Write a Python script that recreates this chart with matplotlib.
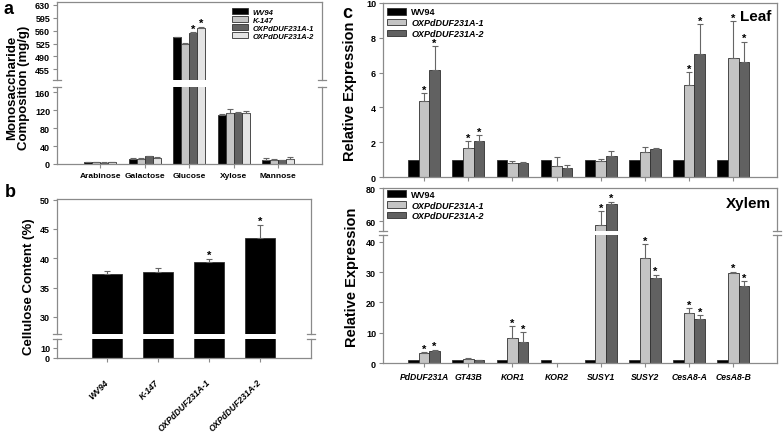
import matplotlib
matplotlib.use('Agg')
import matplotlib.pyplot as plt
from matplotlib.patches import Patch
import numpy as np

plt.rcParams['font.family'] = ['Liberation Sans', 'DejaVu Sans']
plt.rcParams['font.weight'] = 'bold'

# ---- panel a: monosaccharide composition (mg/g)
sugars = ['Arabinose', 'Galactose', 'Glucose', 'Xylose', 'Mannose']
a_lines = ['WV94', 'K-147', 'OXPdDUF231A-1', 'OXPdDUF231A-2']
wv94_sugar = [4, 12, 542, 110, 10]
k147_sugar = [5, 12, 523, 113, 10]
ox1_sugar = [3, 17, 554, 115, 9]
ox2_sugar = [4, 14, 568, 114, 12]
wv94_sugar_err = [0.5, 0.5, 1.5, 1, 4.5]
k147_sugar_err = [0.5, 0.5, 2.5, 9, 1]
ox1_sugar_err = [0.5, 1.5, 2, 2, 1]
ox2_sugar_err = [0.5, 1, 2.5, 5, 3.5]
ox1_sugar_star = [0, 0, 1, 0, 0]
ox2_sugar_star = [0, 0, 1, 0, 0]

# ---- panel b: cellulose content (%)
b_lines = ['WV94', 'K-147', 'OXPdDUF231A-1', 'OXPdDUF231A-2']
cellulose = [37.35, 37.6, 39.4, 43.5]
cellulose_err = [0.55, 0.8, 0.55, 2.2]
cellulose_star = [0, 0, 1, 1]

# ---- panel c: relative expression
genes = ['PdDUF231A', 'GT43B', 'KOR1', 'KOR2', 'SUSY1', 'SUSY2', 'CesA8-A', 'CesA8-B']
c_lines = ['WV94', 'OXPdDUF231A-1', 'OXPdDUF231A-2']
leaf_wv94 = [1, 1, 1, 1, 1, 1, 1, 1]
leaf_ox1 = [4.35, 1.65, 0.82, 0.65, 0.93, 1.42, 5.28, 6.84]
leaf_ox1_err = [0.46, 0.4, 0.12, 0.52, 0.1, 0.33, 0.73, 2.1]
leaf_ox2 = [6.15, 2.07, 0.78, 0.52, 1.2, 1.6, 7.06, 6.6]
leaf_ox2_err = [1.36, 0.34, 0.1, 0.18, 0.27, 0.07, 1.72, 1.17]
leaf_star = [1, 1, 0, 0, 0, 0, 1, 1]
xylem_wv94 = [1, 1, 1, 1, 1, 1, 1, 1]
xylem_ox1 = [3.2, 1.3, 8.2, 0, 57.6, 34.7, 16.6, 29.9]
xylem_ox1_err = [0.3, 0.2, 3.9, 0, 8.5, 4.6, 1.5, 0.3]
xylem_ox2 = [4.0, 0.9, 7.1, 0, 70.8, 28.2, 14.4, 25.3]
xylem_ox2_err = [0.4, 0.2, 3.1, 0, 1.1, 0.9, 1.4, 1.8]
xylem_star = [1, 0, 1, 0, 1, 1, 1, 1]

SPINE = '#8a8a8a'
EDGE = '#303030'
ERR = '#666666'
BLACK, LIGHT, DARK, PALE = '#000000', '#c4c4c4', '#616161', '#e4e4e4'

W, H = 784, 435
fig = plt.figure(figsize=(W / 100, H / 100), dpi=100)


def px(x0, y0, x1, y1):
    return fig.add_axes([x0 / W, 1 - y1 / H, (x1 - x0) / W, (y1 - y0) / H])


def style(ax):
    for s in ax.spines.values():
        s.set_color(SPINE)
        s.set_linewidth(0.9)
    ax.tick_params(direction='out', length=3, width=0.8, color=SPINE, labelsize=6.5, pad=2)


def bars(axs, xs, vals, errs, color, width, stars=None):
    vals = np.asarray(vals, float)
    errs = np.asarray(errs, float)
    m = errs > 0
    for ax in axs:
        ax.bar(xs, vals, width, color=color, edgecolor=EDGE, linewidth=0.6, zorder=2)
        if m.any():
            ax.errorbar(xs[m], vals[m], yerr=[np.zeros(m.sum()), errs[m]], fmt='none',
                        ecolor=ERR, elinewidth=0.8, capsize=2, capthick=0.8, zorder=3)
        if stars is not None:
            for xi, v, e, s in zip(xs, vals, errs, stars):
                if s:
                    ax.annotate('*', (xi, v + e), xytext=(0, -1), textcoords='offset points',
                                ha='center', va='bottom', fontsize=8, annotation_clip=True)


def brk(top, bot):
    for ax, y in ((top, 0), (bot, 1)):
        d = 4 / (ax.get_position().width * W)
        for x in (0, 1):
            ax.plot([x - d, x + d], [y, y], transform=ax.transAxes, color=SPINE,
                    lw=0.9, clip_on=False, zorder=5)
    top.spines['bottom'].set_visible(False)
    bot.spines['top'].set_visible(False)
    top.tick_params(axis='x', bottom=False, labelbottom=False)


def legend(ax, labels, colors, anchor, size, spacing, italic_first=True):
    handles = [Patch(facecolor=c, edgecolor=EDGE, linewidth=0.6) for c in colors]
    lg = ax.legend(handles, labels, loc='upper left', bbox_to_anchor=anchor, frameon=False,
                   prop={'size': size, 'weight': 'bold', 'style': 'italic'},
                   handlelength=2.1, handleheight=0.75, handletextpad=0.6,
                   labelspacing=spacing, borderpad=0, borderaxespad=0)
    if not italic_first:
        lg.get_texts()[0].set_style('normal')
    return lg


# ================= panel a
a_top = px(57, 3, 322, 81)
a_bot = px(57, 88, 322, 165)
xa = np.arange(len(sugars))
wa = 0.18
series_a = [(wv94_sugar, wv94_sugar_err, BLACK, None),
            (k147_sugar, k147_sugar_err, LIGHT, None),
            (ox1_sugar, ox1_sugar_err, DARK, ox1_sugar_star),
            (ox2_sugar, ox2_sugar_err, PALE, ox2_sugar_star)]
for i, (v, e, c, s) in enumerate(series_a):
    bars((a_top, a_bot), xa + (i - 1.5) * wa, v, e, c, wa, s)
for ax in (a_top, a_bot):
    style(ax)
    ax.set_xlim(-0.97, 4.99)
a_top.set_ylim(426, 638)
a_top.set_yticks(np.arange(455, 631, 35))
a_bot.set_ylim(0, 172)
a_bot.set_yticks(np.arange(0, 161, 40))
a_bot.set_xticks(xa, sugars, fontsize=6)
a_bot.tick_params(axis='x', pad=3)
brk(a_top, a_bot)
legend(a_top, a_lines, [BLACK, LIGHT, DARK, PALE], (0.66, 0.92), 5.5, 0.08)
fig.text(9 / W, 1 - 10 / H, 'a', fontsize=13, weight='bold', ha='center', va='center')
fig.text(18 / W, 1 - 88 / H, 'Monosaccharide\nComposition (mg/g)', rotation=90,
         fontsize=9.5, weight='bold', ha='center', va='center', linespacing=1.0)

# ================= panel b
b_top = px(57, 200, 311, 335)
b_bot = px(57, 340, 311, 359)
xb = np.arange(len(b_lines))
for ax in (b_top, b_bot):
    style(ax)
    ax.set_xlim(-0.98, 4.0)
bars((b_top, b_bot), xb, cellulose, cellulose_err, BLACK, 0.6, cellulose_star)
b_top.set_ylim(27.1, 50.1)
b_top.set_yticks([30, 35, 40, 45, 50])
b_bot.set_ylim(0, 19)
b_bot.set_yticks([0, 10])
b_bot.set_xticks(xb, b_lines, fontsize=6.2, style='italic', rotation=45,
                 ha='right', va='center', rotation_mode='anchor')
b_bot.tick_params(axis='x', pad=13)
brk(b_top, b_bot)
fig.text(10 / W, 1 - 193 / H, 'b', fontsize=13, weight='bold', ha='center', va='center')
fig.text(29 / W, 1 - 287 / H, 'Cellulose Content (%)', rotation=90,
         fontsize=9.5, weight='bold', ha='center', va='center')

# ================= panel c (leaf)
xc = np.arange(len(genes))
wc = 0.24
c_leaf = px(383, 4, 777, 178)
style(c_leaf)
bars((c_leaf,), xc - wc, leaf_wv94, np.zeros(len(genes)), BLACK, wc)
bars((c_leaf,), xc, leaf_ox1, leaf_ox1_err, LIGHT, wc, leaf_star)
bars((c_leaf,), xc + wc, leaf_ox2, leaf_ox2_err, DARK, wc, leaf_star)
c_leaf.set_xlim(-0.93, 7.99)
c_leaf.set_ylim(0, 10)
c_leaf.set_yticks(np.arange(0, 11, 2))
c_leaf.set_xticks(xc, [''] * len(genes))
legend(c_leaf, c_lines, [BLACK, LIGHT, DARK], (0.01, 0.975), 6.5, 0.2, italic_first=False)
c_leaf.text(0.985, 0.965, 'Leaf', transform=c_leaf.transAxes, fontsize=11,
            weight='bold', ha='right', va='top')
fig.text(347 / W, 1 - 13 / H, 'c', fontsize=13, weight='bold', ha='center', va='center')
fig.text(350 / W, 1 - 91 / H, 'Relative Expression', rotation=90,
         fontsize=10.5, weight='bold', ha='center', va='center')

# ================= panel c (xylem)
x_top = px(383, 189, 777, 232)
x_bot = px(383, 236, 777, 364)
for ax in (x_top, x_bot):
    style(ax)
    ax.set_xlim(-0.93, 7.99)
bars((x_top, x_bot), xc - wc, xylem_wv94, np.zeros(len(genes)), BLACK, wc)
bars((x_top, x_bot), xc, xylem_ox1, xylem_ox1_err, LIGHT, wc, xylem_star)
bars((x_top, x_bot), xc + wc, xylem_ox2, xylem_ox2_err, DARK, wc, xylem_star)
x_top.set_ylim(54, 80.3)
x_top.set_yticks([60, 80])
x_bot.set_ylim(0, 42.3)
x_bot.set_yticks([0, 10, 20, 30, 40])
x_bot.set_xticks(xc, genes, fontsize=6.2, style='italic')
x_bot.tick_params(axis='x', pad=3.5)
brk(x_top, x_bot)
legend(x_top, c_lines, [BLACK, LIGHT, DARK], (0.01, 0.96), 6.5, 0.2, italic_first=False)
x_top.text(0.985, 0.82, 'Xylem', transform=x_top.transAxes, fontsize=11,
           weight='bold', ha='right', va='top')
fig.text(352 / W, 1 - 277 / H, 'Relative Expression', rotation=90,
         fontsize=10.5, weight='bold', ha='center', va='center')

fig.savefig('out.png', dpi=100)
